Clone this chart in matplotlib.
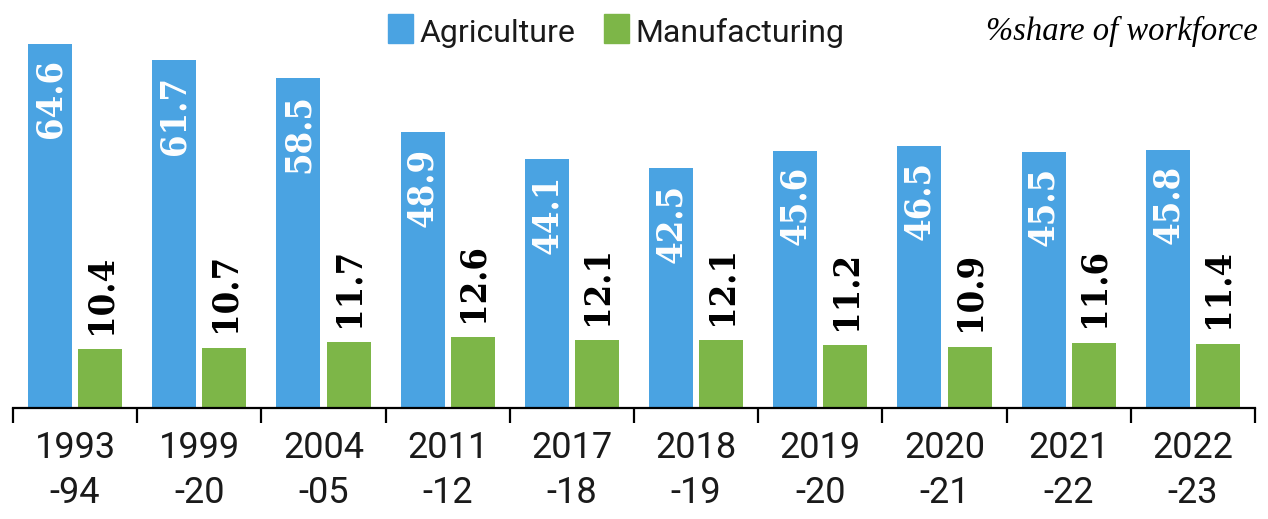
import matplotlib.pyplot as plt
import numpy as np
from matplotlib.patches import Rectangle

# workforce share by survey year
periods = ["1993\n-94", "1999\n-20", "2004\n-05", "2011\n-12", "2017\n-18",
           "2018\n-19", "2019\n-20", "2020\n-21", "2021\n-22", "2022\n-23"]
agriculture = [64.6, 61.7, 58.5, 48.9, 44.1, 42.5, 45.6, 46.5, 45.5, 45.8]
manufacturing = [10.4, 10.7, 11.7, 12.6, 12.1, 12.1, 11.2, 10.9, 11.6, 11.4]

BLUE = "#4aa3e2"
GREEN = "#7db648"
SANS = ["Roboto", "DejaVu Sans"]
VALUE_FONT = dict(family="DejaVu Serif", fontstretch="condensed", weight="bold", size=26)

W, H = 1268, 519
fig = plt.figure(figsize=(W / 100, H / 100), dpi=100)
ax = fig.add_axes([13 / W, (H - 408) / H, 1242 / W, 408 / H])

x = np.arange(len(periods))
bw = 0.355
off = 0.202
b1 = ax.bar(x - off, agriculture, bw, color=BLUE)
b2 = ax.bar(x + off, manufacturing, bw, color=GREEN)

for rect, v in zip(b1, agriculture):
    ax.annotate(f"{v:.1f}", (rect.get_x() + rect.get_width() / 2, v),
                xytext=(0, -11), textcoords="offset points",
                rotation=90, ha="center", va="top", color="white", **VALUE_FONT)
for rect, v in zip(b2, manufacturing):
    ax.annotate(f"{v:.1f}", (rect.get_x() + rect.get_width() / 2, v),
                xytext=(0, 11), textcoords="offset points",
                rotation=90, ha="center", va="bottom", color="black", **VALUE_FONT)

ax.set_xlim(-0.5, len(periods) - 0.5)
ax.set_ylim(0, 72.4)
for s in ("top", "right", "left"):
    ax.spines[s].set_visible(False)
ax.spines["bottom"].set_linewidth(1.6)
ax.set_yticks([])

# labels at group centres, separator ticks between groups
ax.set_xticks(x)
ax.set_xticklabels(periods, family=SANS, fontsize=26, linespacing=1.33,
                   color="#1a1a1a")
ax.tick_params(axis="x", which="major", length=0, pad=16)
ax.set_xticks(np.arange(len(periods) + 1) - 0.5, minor=True)
ax.tick_params(axis="x", which="minor", length=11, width=1.6, color="black")

# legend
fig.patches.append(Rectangle((388 / W, 1 - 43 / H), 25 / W, 29 / H,
                             transform=fig.transFigure, color=BLUE))
fig.text(419 / W, 1 - 42 / H, "Agriculture", family=SANS, fontsize=23,
         va="baseline", color="#1a1a1a")
fig.patches.append(Rectangle((604 / W, 1 - 43 / H), 25 / W, 29 / H,
                             transform=fig.transFigure, color=GREEN))
fig.text(635 / W, 1 - 42 / H, "Manufacturing", family=SANS, fontsize=23,
         va="baseline", color="#1a1a1a")
fig.text(1258 / W, 1 - 40 / H, "%share of workforce", family="Liberation Serif",
         style="italic", fontsize=23.5, ha="right", va="baseline")

fig.savefig("out.png", dpi=100)
